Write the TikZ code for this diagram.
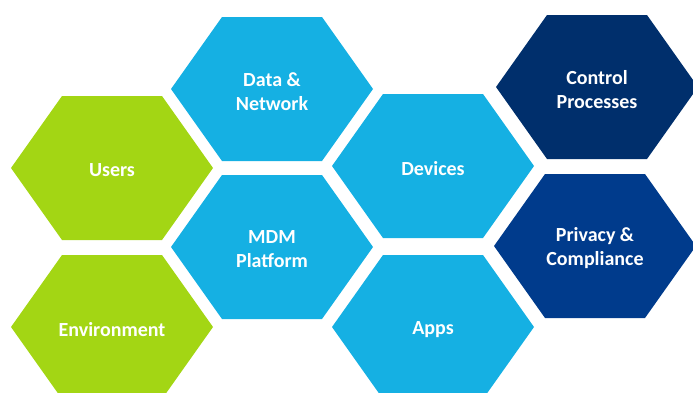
\documentclass[tikz,border=0pt]{standalone}
\usepackage{fontspec}
\setmainfont{Carlito}
\definecolor{hexgreen}{RGB}{163,214,20}
\definecolor{hexblue}{RGB}{21,176,227}
\definecolor{hexnavy}{RGB}{0,47,108}
\definecolor{hexroyal}{RGB}{0,59,140}
\tikzset{
  hexlabel/.style={text=white, font=\fontsize{20}{24}\selectfont\bfseries, align=center, inner sep=0pt, yshift=-2.5pt}
}
% flat-topped hexagon: 202 wide, 144 tall, top edge 100 long
\newcommand\hexcell[5]{%
  \fill[#4] (#2-101,#3) -- (#2-50,#3+72) -- (#2+50,#3+72) -- (#2+101,#3)
            -- (#2+50,#3-72) -- (#2-50,#3-72) -- cycle;
  \node[hexlabel] (#1) at (#2,#3) {#5};
}
\begin{document}
\begin{tikzpicture}[x=1pt,y=1pt]
\useasboundingbox (0,0) rectangle (693,-392);
\clip (0,0) rectangle (693,-392);
\hexcell{users}{112}{-168}{hexgreen}{Users}
\hexcell{env}{112}{-327}{hexgreen}{Environment}
\hexcell{data}{272}{-89}{hexblue}{Data \&\\Network}
\hexcell{mdm}{272}{-247}{hexblue}{MDM\\Platform}
\hexcell{devices}{433}{-166}{hexblue}{Devices}
\hexcell{apps}{433}{-327}{hexblue}{Apps}
\hexcell{control}{597}{-87}{hexnavy}{Control\\Processes}
\hexcell{privacy}{595}{-246}{hexroyal}{Privacy \&\\Compliance}
\end{tikzpicture}
\end{document}
